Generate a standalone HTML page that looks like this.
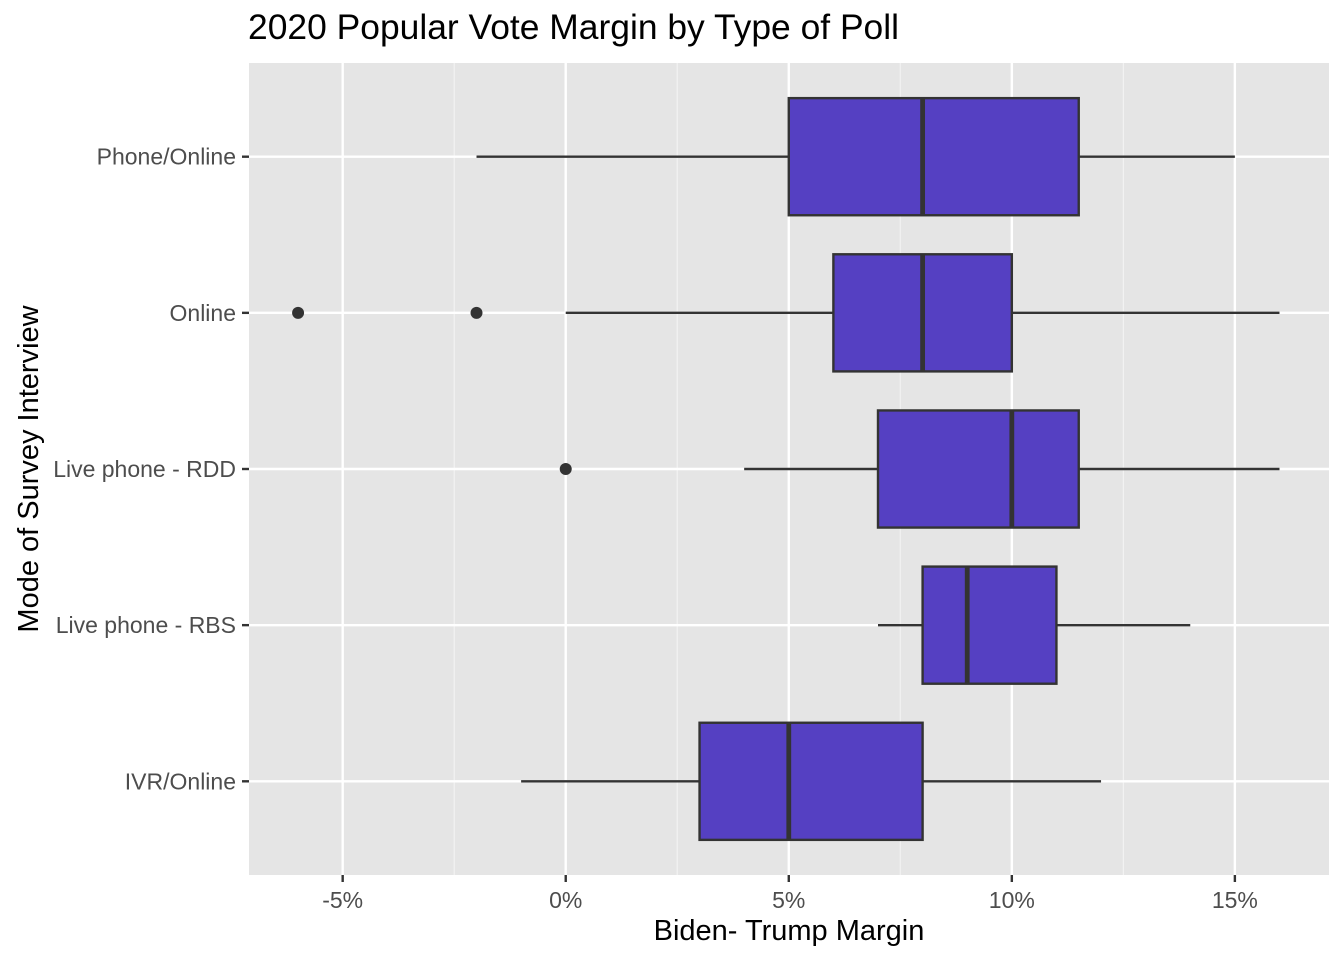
<!DOCTYPE html>
<html><head><meta charset="utf-8"><style>
body{margin:0;background:#fff;}
svg{display:block;font-family:"Liberation Sans",Arial,sans-serif;}
</style></head><body>
<svg id="chart" width="1344" height="960" viewBox="0 0 1344 960" xmlns="http://www.w3.org/2000/svg">
<text x="248" y="39" font-size="35" textLength="651" lengthAdjust="spacingAndGlyphs" fill="#000">2020 Popular Vote Margin by Type of Poll</text>
<rect x="249" y="63" width="1080" height="812" fill="#e5e5e5"/>
<g id="grid"></g>
<g id="marks"></g>
<g id="axes"></g>
<text x="789" y="940" font-size="29" text-anchor="middle" fill="#000">Biden- Trump Margin</text>
<text transform="translate(38,469) rotate(-90)" font-size="29" text-anchor="middle" fill="#000">Mode of Survey Interview</text>
</svg>
<script>
const categories = ["Phone/Online","Online","Live phone - RDD","Live phone - RBS","IVR/Online"];
const whiskerLow = [-2, 0, 4, 7, -1];
const q1 = [5, 6, 7, 8, 3];
const median = [8, 8, 10, 9, 5];
const q3 = [11.5, 10, 11.5, 11, 8];
const whiskerHigh = [15, 16, 16, 14, 12];
const outliers = [[], [-6, -2], [0], [], []];
const xTicks = [-5, 0, 5, 10, 15];
const xTickLabels = ["-5%","0%","5%","10%","15%"];

const NS="http://www.w3.org/2000/svg";
const L=249,R=1329,T=63,B=875;
const xMin=-7.1,xMax=17.11;
function x(v){return L+(v-xMin)/(xMax-xMin)*(R-L);}
const n=categories.length;
const step=(B-T)/(n-1+1.2);
function y(i){return T+step*(0.6+i);}
function mk(tag,attrs,parent){const e=document.createElementNS(NS,tag);for(const k in attrs)e.setAttribute(k,attrs[k]);parent.appendChild(e);return e;}
const grid=document.getElementById('grid'),marks=document.getElementById('marks'),axes=document.getElementById('axes');
for(let i=0;i<xTicks.length-1;i++){
  const m=(xTicks[i]+xTicks[i+1])/2;
  const g=mk('line',{x1:x(m),x2:x(m),y1:T,y2:B,stroke:'#f2f2f2','stroke-width':1.2},grid);
  
  
}
xTicks.forEach((t,i)=>{
  const g=mk('line',{x1:x(t),x2:x(t),y1:T,y2:B,stroke:'#fff','stroke-width':2.4},grid);
  
  
  const tk=mk('line',{x1:x(t),x2:x(t),y1:B,y2:B+7,stroke:'#333','stroke-width':2.4},axes);
  
  
  const tx=mk('text',{x:x(t),y:B+33,'font-size':23,'text-anchor':'middle',fill:'#4d4d4d'},axes);
  tx.textContent=xTickLabels[i];
  
  
});
categories.forEach((c,i)=>{
  const cy=y(i);
  const g=mk('line',{x1:L,x2:R,y1:cy,y2:cy,stroke:'#fff','stroke-width':2.4},grid);
  
  
  const tk=mk('line',{x1:L-7,x2:L,y1:cy,y2:cy,stroke:'#333','stroke-width':2.4},axes);
  
  
  const tx=mk('text',{x:L-13,y:cy+8,'font-size':23,'text-anchor':'end',fill:'#4d4d4d'},axes);
  tx.textContent=c;
  
  
  const hh=step*0.375;
  const w1=mk('line',{x1:x(whiskerLow[i]),x2:x(q1[i]),y1:cy,y2:cy,stroke:'#333','stroke-width':2.4},marks);
  
  
  const w2=mk('line',{x1:x(q3[i]),x2:x(whiskerHigh[i]),y1:cy,y2:cy,stroke:'#333','stroke-width':2.4},marks);
  
  
  const bx=mk('rect',{x:x(q1[i]),y:cy-hh,width:x(q3[i])-x(q1[i]),height:2*hh,fill:'#5540c2',stroke:'#333','stroke-width':2.4},marks);
  
  
  const md=mk('line',{x1:x(median[i]),x2:x(median[i]),y1:cy-hh,y2:cy+hh,stroke:'#333','stroke-width':4.8},marks);
  
  
  outliers[i].forEach(o=>{
    const p=mk('circle',{cx:x(o),cy:cy,r:6,fill:'#333'},marks);
    
    
  });
});
</script>
</body></html>
